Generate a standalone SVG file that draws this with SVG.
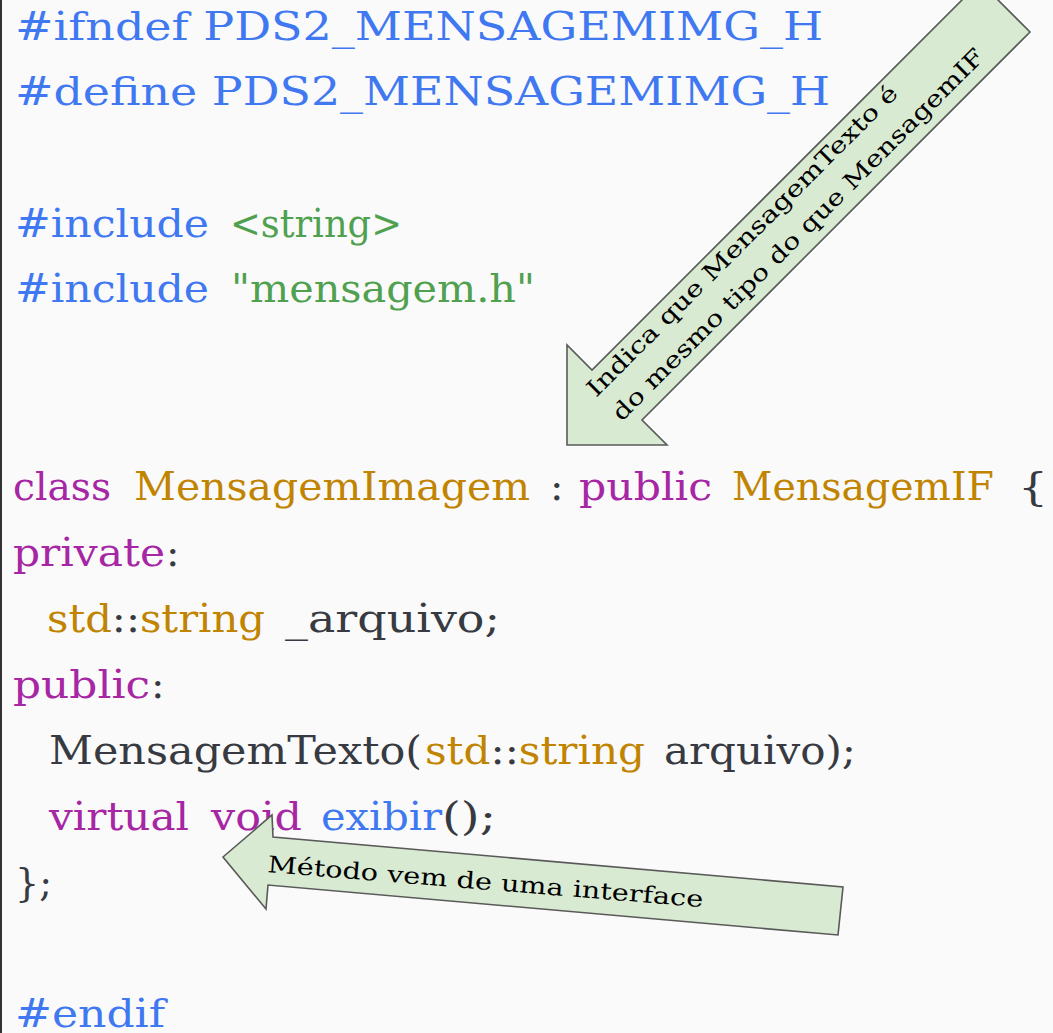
<svg xmlns="http://www.w3.org/2000/svg" width="1053" height="1033" viewBox="0 0 1053 1033">
  <style>
    .code { font-family: "DejaVu Serif", "Liberation Serif", serif; font-size: 40px; }
    .pp { fill: #4078f2; }
    .str { fill: #50a14f; }
    .kw { fill: #a626a4; }
    .ty { fill: #c18401; }
    .tx { fill: #383a42; }
    .fn { fill: #4078f2; }
    .callout { fill: #d9ead3; stroke: #595959; stroke-width: 1.6; stroke-linejoin: miter; }
    .note { font-family: "DejaVu Serif", "Liberation Serif", serif; font-size: 23px; fill: #000; }
  </style>

  <!-- page background and left rule -->
  <rect x="0" y="0" width="1053" height="1033" fill="#fafafa"/>
  <rect x="0" y="0" width="2" height="1033" fill="#333333"/>

  <!-- header source code -->
  <g id="code" class="code">
    <g id="line-ifndef">
      <text class="pp" x="15" y="40" textLength="808" lengthAdjust="spacingAndGlyphs">#ifndef PDS2_MENSAGEMIMG_H</text>
    </g>
    <g id="line-define">
      <text class="pp" x="15" y="105" textLength="815" lengthAdjust="spacingAndGlyphs">#define PDS2_MENSAGEMIMG_H</text>
    </g>
    <g id="line-include-string">
      <text class="pp" x="15" y="237" textLength="194" lengthAdjust="spacingAndGlyphs">#include</text>
      <text class="str" x="230" y="237" textLength="172" lengthAdjust="spacingAndGlyphs">&lt;string&gt;</text>
    </g>
    <g id="line-include-mensagem">
      <text class="pp" x="15" y="302" textLength="194" lengthAdjust="spacingAndGlyphs">#include</text>
      <text class="str" x="231" y="302" textLength="304" lengthAdjust="spacingAndGlyphs">"mensagem.h"</text>
    </g>
    <g id="line-class">
      <text class="kw" x="13" y="500" textLength="98" lengthAdjust="spacingAndGlyphs">class</text>
      <text class="ty" x="134" y="500" textLength="396" lengthAdjust="spacingAndGlyphs">MensagemImagem</text>
      <text class="tx" x="550" y="500">:</text>
      <text class="kw" x="579" y="500" textLength="133" lengthAdjust="spacingAndGlyphs">public</text>
      <text class="ty" x="732" y="500" textLength="262" lengthAdjust="spacingAndGlyphs">MensagemIF</text>
      <text class="tx" x="1018" y="500" textLength="30" lengthAdjust="spacingAndGlyphs">{</text>
    </g>
    <g id="line-private">
      <text class="kw" x="13" y="566" textLength="152" lengthAdjust="spacingAndGlyphs">private</text>
      <text class="tx" x="166" y="566">:</text>
    </g>
    <g id="line-member">
      <text class="ty" x="47" y="632" textLength="218" lengthAdjust="spacingAndGlyphs">std<tspan class="tx">::</tspan>string</text>
      <text class="tx" x="285" y="632" textLength="215" lengthAdjust="spacingAndGlyphs">_arquivo;</text>
    </g>
    <g id="line-public">
      <text class="kw" x="13" y="698" textLength="137" lengthAdjust="spacingAndGlyphs">public</text>
      <text class="tx" x="151" y="698">:</text>
    </g>
    <g id="line-constructor">
      <text class="tx" x="49" y="764" textLength="373" lengthAdjust="spacingAndGlyphs">MensagemTexto(</text>
      <text class="ty" x="425" y="764" textLength="220" lengthAdjust="spacingAndGlyphs">std<tspan class="tx">::</tspan>string</text>
      <text class="tx" x="664" y="764" textLength="192" lengthAdjust="spacingAndGlyphs">arquivo);</text>
    </g>
    <g id="line-exibir">
      <text class="kw" x="49" y="830" textLength="140" lengthAdjust="spacingAndGlyphs">virtual</text>
      <text class="kw" x="211" y="830" textLength="91" lengthAdjust="spacingAndGlyphs">void</text>
      <text class="fn" x="321" y="830" textLength="121" lengthAdjust="spacingAndGlyphs">exibir</text>
      <text class="tx" x="442" y="830" textLength="54" lengthAdjust="spacingAndGlyphs">();</text>
    </g>
    <g id="line-close">
      <text class="tx" x="15" y="896" textLength="37" lengthAdjust="spacingAndGlyphs">};</text>
    </g>
    <g id="line-endif">
      <text class="pp" x="15" y="1027" textLength="150" lengthAdjust="spacingAndGlyphs">#endif</text>
    </g>
  </g>

  <!-- callout arrows -->
  <g id="connectors">
    <g id="arrow-heranca">
      <polygon class="callout" points="567,445 567,345 592,370 980,-18 1030,32 642,420 667,445"/>
      <text class="note" transform="rotate(-45)" x="140" y="703" textLength="429" lengthAdjust="spacingAndGlyphs">Indica que MensagemTexto é</text>
      <text class="note" transform="rotate(-45)" x="141" y="738" textLength="515" lengthAdjust="spacingAndGlyphs">do mesmo tipo do que MensagemIF</text>
    </g>
    <g id="arrow-interface">
      <polygon class="callout" points="223,857 272,815 273,837 843,887 838,935 268,885 266,909"/>
      <text class="note" transform="rotate(4.6 267 872)" x="267" y="872" textLength="437" lengthAdjust="spacingAndGlyphs">Método vem de uma interface</text>
    </g>
  </g>
</svg>
